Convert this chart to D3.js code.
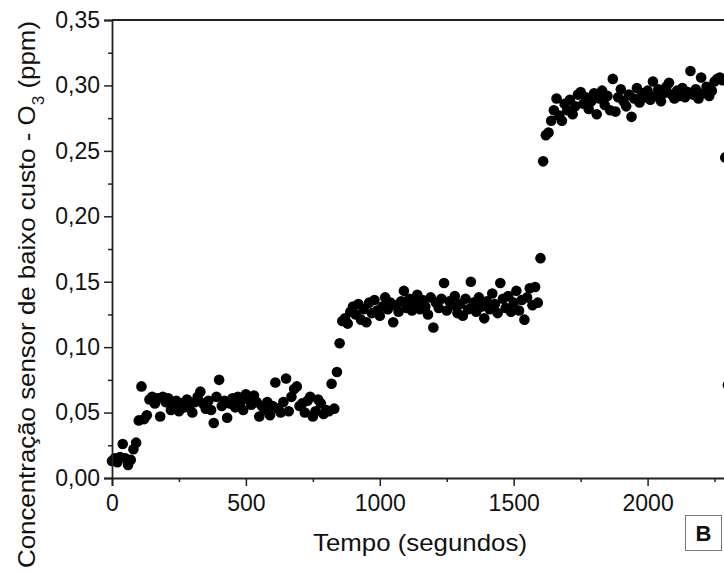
<!DOCTYPE html>
<html>
<head>
<meta charset="utf-8">
<script src="https://cdn.jsdelivr.net/npm/d3@7"></script>
<style>
  body { margin: 0; background: #fff; }
  svg { display: block; overflow: hidden; }
  text { font-family: Arial, "Liberation Sans", sans-serif; fill: #111; }
</style>
</head>
<body>
<div id="chart"></div>
<script>
// Tempo (s) e concentração (ppm)
var tempo = [
  0, 10, 20, 30, 40, 50, 60, 70, 80, 90,
  100, 110, 120, 130, 140, 150, 160, 170, 180, 190,
  200, 210, 220, 230, 240, 250, 260, 270, 280, 290,
  300, 310, 320, 330, 340, 350, 360, 370, 380, 390,
  400, 410, 420, 430, 440, 450, 460, 470, 480, 490,
  500, 510, 520, 530, 540, 550, 560, 570, 580, 590,
  600, 610, 620, 630, 640, 650, 660, 670, 680, 690,
  700, 710, 720, 730, 740, 750, 760, 770, 780, 790,
  800, 810, 820, 830, 840, 850, 860, 870, 880, 890,
  900, 910, 920, 930, 940, 950, 960, 970, 980, 990,
  1000, 1010, 1020, 1030, 1040, 1050, 1060, 1070, 1080, 1090,
  1100, 1110, 1120, 1130, 1140, 1150, 1160, 1170, 1180, 1190,
  1200, 1210, 1220, 1230, 1240, 1250, 1260, 1270, 1280, 1290,
  1300, 1310, 1320, 1330, 1340, 1350, 1360, 1370, 1380, 1390,
  1400, 1410, 1420, 1430, 1440, 1450, 1460, 1470, 1480, 1490,
  1500, 1510, 1520, 1530, 1540, 1550, 1560, 1570, 1580, 1590,
  1600, 1610, 1620, 1630, 1640, 1650, 1660, 1670, 1680, 1690,
  1700, 1710, 1720, 1730, 1740, 1750, 1760, 1770, 1780, 1790,
  1800, 1810, 1820, 1830, 1840, 1850, 1860, 1870, 1880, 1890,
  1900, 1910, 1920, 1930, 1940, 1950, 1960, 1970, 1980, 1990,
  2000, 2010, 2020, 2030, 2040, 2050, 2060, 2070, 2080, 2090,
  2100, 2110, 2120, 2130, 2140, 2150, 2160, 2170, 2180, 2190,
  2200, 2210, 2220, 2230, 2240, 2250, 2260, 2270, 2280, 2290,
  2300
];
var concentracao = [
  0.013, 0.015, 0.012, 0.016, 0.026, 0.015, 0.010, 0.014, 0.022, 0.027,
  0.044, 0.070, 0.045, 0.048, 0.060, 0.062, 0.057, 0.061, 0.047, 0.062,
  0.058, 0.061, 0.052, 0.055, 0.059, 0.051, 0.057, 0.054, 0.060, 0.056,
  0.050, 0.058, 0.062, 0.066, 0.057, 0.053, 0.059, 0.052, 0.042, 0.062,
  0.075, 0.055, 0.059, 0.046, 0.057, 0.061, 0.054, 0.062, 0.058, 0.052,
  0.064, 0.060, 0.056, 0.063, 0.058, 0.047, 0.055, 0.052, 0.058, 0.048,
  0.055, 0.073, 0.053, 0.050, 0.058, 0.076, 0.051, 0.062, 0.068, 0.070,
  0.055, 0.057, 0.050, 0.059, 0.062, 0.047, 0.051, 0.060, 0.057, 0.049,
  0.052, 0.051, 0.072, 0.053, 0.081, 0.103, 0.120, 0.122, 0.118, 0.127,
  0.131, 0.125, 0.133, 0.121, 0.129, 0.119, 0.134, 0.126, 0.136, 0.128,
  0.124, 0.131, 0.138, 0.129, 0.134, 0.119, 0.132, 0.127, 0.135, 0.143,
  0.130, 0.137, 0.128, 0.133, 0.140, 0.129, 0.136, 0.131, 0.125, 0.138,
  0.115, 0.134, 0.130, 0.137, 0.149, 0.128, 0.135, 0.132, 0.139, 0.126,
  0.133, 0.124, 0.137, 0.129, 0.150, 0.134, 0.127, 0.138, 0.131, 0.122,
  0.135, 0.129, 0.141, 0.133, 0.126, 0.149, 0.137, 0.130, 0.139, 0.127,
  0.134, 0.143, 0.128, 0.136, 0.121, 0.138, 0.145, 0.132, 0.146, 0.134,
  0.168, 0.242, 0.262, 0.264, 0.273, 0.281, 0.290, 0.277, 0.273, 0.286,
  0.281, 0.289, 0.278, 0.284, 0.293, 0.295, 0.286, 0.291, 0.282, 0.288,
  0.294, 0.278, 0.290, 0.296, 0.285, 0.292, 0.281, 0.305, 0.280, 0.291,
  0.297, 0.288, 0.284, 0.293, 0.276, 0.290, 0.298, 0.287, 0.294, 0.291,
  0.296, 0.289, 0.303, 0.292, 0.297, 0.288, 0.294, 0.299, 0.302, 0.293,
  0.290, 0.296, 0.292, 0.298, 0.291, 0.295, 0.311, 0.293, 0.297, 0.290,
  0.306, 0.294, 0.299, 0.292, 0.296, 0.303, 0.305, 0.306, 0.304, 0.245,
  0.071
];
var xTicks = [0, 500, 1000, 1500, 2000];
var xMinor = [250, 750, 1250, 1750, 2250];
var yTicks = [0, 0.05, 0.10, 0.15, 0.20, 0.25, 0.30, 0.35];
var yMinor = [0.025, 0.075, 0.125, 0.175, 0.225, 0.275, 0.325];

var width = 724, height = 574;
var plotLeft = 112, plotTop = 20, plotBottom = 478;

var svg = d3.select("#chart").append("svg")
    .attr("width", width)
    .attr("height", height);

// the plot runs past the right edge of the picture
var x = d3.scaleLinear().domain([0, 2400]).range([plotLeft, plotLeft + 2400 * 0.2678]);
var y = d3.scaleLinear().domain([0, 0.35]).range([plotBottom, plotTop]);

var br = d3.formatLocale({decimal: ",", thousands: ".", grouping: [3], currency: ["", ""]});

// points
svg.append("g")
    .selectAll("circle")
    .data(tempo)
    .enter()
    .append("circle")
    .attr("cx", function(d) { return x(d); })
    .attr("cy", function(d, i) { return y(concentracao[i]); })
    .attr("r", 5.3)
    .attr("fill", "#000");

// axes
svg.append("g")
    .attr("transform", "translate(0," + plotBottom + ")")
    .call(d3.axisBottom(x).tickValues(xTicks).tickSize(8).tickPadding(9).tickFormat(d3.format("d")));
svg.append("g")
    .attr("transform", "translate(0," + plotBottom + ")")
    .call(d3.axisBottom(x).tickValues(xMinor).tickSize(4).tickFormat(""))
    .select(".domain").remove();

svg.append("g")
    .attr("transform", "translate(" + plotLeft + ",0)")
    .call(d3.axisLeft(y).tickValues(yTicks).tickSize(8).tickPadding(4).tickFormat(br.format(".2f")));
svg.append("g")
    .attr("transform", "translate(" + plotLeft + ",0)")
    .call(d3.axisLeft(y).tickValues(yMinor).tickSize(4).tickFormat(""))
    .select(".domain").remove();

svg.selectAll(".domain").attr("stroke", "#222").attr("stroke-width", 1.8);
svg.selectAll(".tick line").attr("stroke", "#222").attr("stroke-width", 1.5);
svg.selectAll(".tick text")
    .style("font-size", "23px")
    .style("font-family", "Arial, 'Liberation Sans', sans-serif")
    .attr("fill", "#111");

// top border
svg.append("line")
    .attr("x1", plotLeft).attr("x2", width + 10)
    .attr("y1", plotTop).attr("y2", plotTop)
    .attr("stroke", "#222")
    .attr("stroke-width", 1.8);

// axis titles
svg.append("text")
    .attr("x", 420)
    .attr("y", 551)
    .attr("text-anchor", "middle")
    .attr("textLength", 214)
    .attr("lengthAdjust", "spacingAndGlyphs")
    .style("font-size", "24px")
    .text("Tempo (segundos)");

var yt = svg.append("text")
    .attr("transform", "translate(35,294.5) rotate(-90)")
    .attr("text-anchor", "middle")
    .attr("textLength", 547)
    .attr("lengthAdjust", "spacingAndGlyphs")
    .style("font-size", "24px");
yt.append("tspan").text("Concentração sensor de baixo custo - O");
yt.append("tspan").attr("baseline-shift", "sub").style("font-size", "16px").text("3");
yt.append("tspan").text(" (ppm)");

// panel label
svg.append("rect")
    .attr("x", 685.5).attr("y", 515.5)
    .attr("width", 36).attr("height", 35)
    .attr("fill", "#fff")
    .attr("stroke", "#777")
    .attr("stroke-width", 1);
svg.append("text")
    .attr("x", 703.5)
    .attr("y", 541)
    .attr("text-anchor", "middle")
    .style("font-size", "22px")
    .style("font-weight", "bold")
    .text("B");
</script>
</body>
</html>
